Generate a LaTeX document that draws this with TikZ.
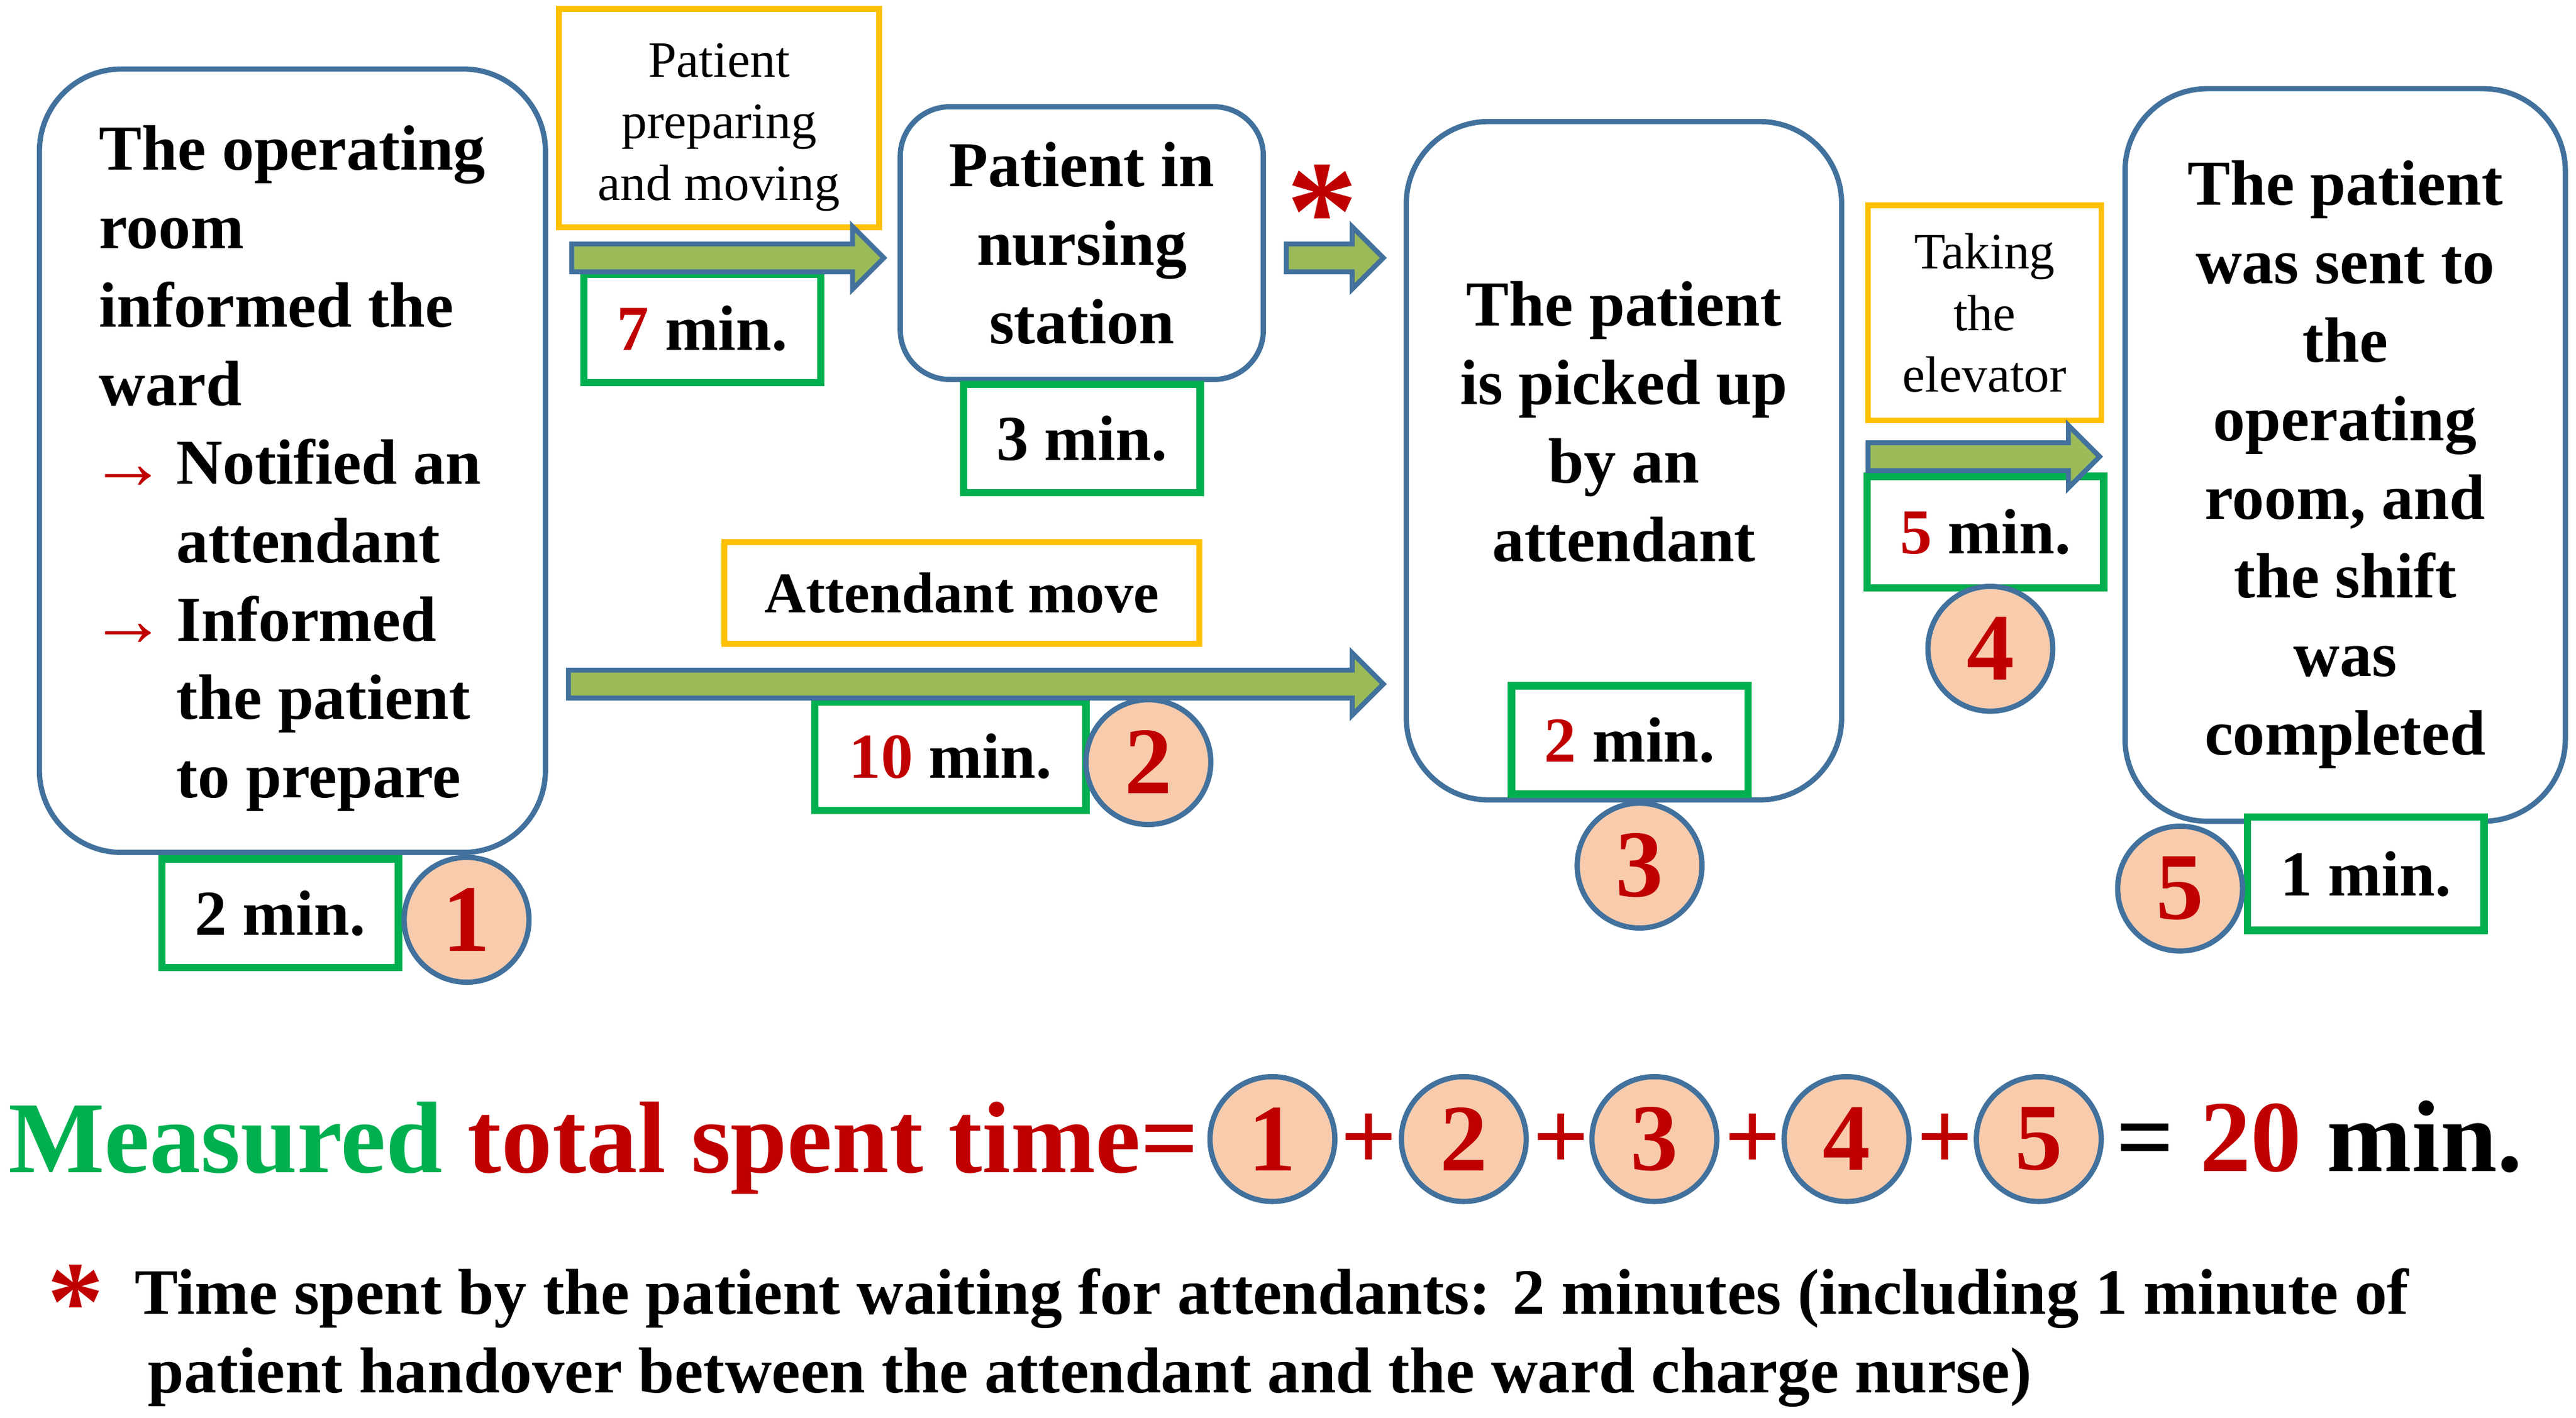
\documentclass[tikz,border=0pt]{standalone}
\usepackage{fontspec}
\setmainfont{Liberation Serif}
\usetikzlibrary{calc}
\definecolor{boxblue}{RGB}{65,113,156}
\definecolor{timegreen}{RGB}{0,176,80}
\definecolor{stageorange}{RGB}{255,192,0}
\definecolor{arrowgreen}{RGB}{155,187,89}
\definecolor{numfill}{RGB}{248,203,173}
\definecolor{darkred}{RGB}{192,0,0}

\newcommand{\blockarrow}[2]{%
  \draw[fatarrow] ($(#1)+(0,-8.5)$) -- ($(#2)+(-19,-8.5)$) -- ($(#2)+(-19,-19)$) -- (#2)
    -- ($(#2)+(-19,19)$) -- ($(#2)+(-19,8.5)$) -- ($(#1)+(0,8.5)$) -- cycle;}
\newcommand{\redarr}{\makebox[47pt][l]{\hspace*{-6pt}\raisebox{-3pt}{\mdseries\fontsize{47}{47}\selectfont\textcolor{darkred}{→}}}}

\begin{document}
\begin{tikzpicture}[x=1pt, y=-1pt,
  stepbox/.style={draw=boxblue, line width=3.2pt, rounded corners=50pt, fill=white, inner sep=0pt, font=\fontsize{39}{47.8}\selectfont\bfseries},
  timebox/.style={draw=timegreen, line width=4.5pt, fill=white, minimum width=144pt, minimum height=66pt, inner sep=0pt, font=\fontsize{39}{47}\selectfont\bfseries},
  actbox/.style={draw=stageorange, line width=3.5pt, fill=white, inner sep=0pt, align=center, font=\fontsize{31}{37.5}\selectfont},
  numcirc/.style={circle, draw=boxblue, line width=3.2pt, fill=numfill, minimum size=76pt, inner sep=0pt, text=darkred, font=\fontsize{58}{58}\selectfont\bfseries},
  plussign/.style={inner sep=0pt, text=darkred, font=\fontsize{60}{60}\selectfont\bfseries},
  fatarrow/.style={draw=boxblue, line width=3pt, fill=arrowgreen},
  waitstar/.style={inner sep=0pt, text=darkred, font=\fontsize{87}{87}\selectfont\bfseries}]

  \path[fill=white, use as bounding box] (0,0) rectangle (1568,863);

  \node[stepbox, minimum width=308pt, minimum height=477pt, align=left] (inform) at (178,280.5)
    {\rule{0pt}{36.5pt}The operating\\ room\\ informed the\\ ward\\ \redarr Notified an\\ \hspace*{47pt}attendant\\
     \redarr Informed\\ \hspace*{47pt}the patient\\ \hspace*{47pt}to prepare};
  \node[stepbox, rounded corners=30pt, minimum width=221pt, minimum height=166pt, align=center] (station) at (658.5,148)
    {Patient in\\ nursing\\ station};
  \node[stepbox, minimum width=265pt, minimum height=413pt, align=center] (pickup) at (988.5,280.5)
    {The patient\\ is picked up\\ by an\\ attendant\\ \mbox{}};
  \node[stepbox, minimum width=268pt, minimum height=446pt, align=center] (arrive) at (1427.5,277)
    {\rule{0pt}{38.5pt}The patient\\ was sent to\\ the\\ operating\\ room, and\\ the shift\\ was\\ completed};

  \node[actbox, minimum width=195pt, minimum height=133pt] (prepmove) at (437.7,72) {\rule{0pt}{31.5pt}Patient\\ preparing\\ and moving};
  \node[actbox, minimum width=289pt, minimum height=62pt, font=\fontsize{35}{40}\selectfont\bfseries] (attmove) at (585.5,361) {Attendant move};
  \node[actbox, minimum width=142pt, minimum height=131pt] (elevator) at (1208,190.5) {Taking\\ the\\ elevator};

  \node[timebox] (tinform) at (170.5,556) {2 min.};
  \node[timebox] (tprep) at (427.5,200) {\textcolor{darkred}{7} min.};
  \node[timebox] (tstation) at (658.5,267) {3 min.};
  \node[timebox, minimum width=165pt] (tattend) at (578.5,460.5) {\textcolor{darkred}{10} min.};
  \node[timebox] (tpickup) at (992,450.5) {\textcolor{darkred}{2} min.};
  \node[timebox, minimum height=68pt] (televator) at (1208.5,324) {\textcolor{darkred}{5} min.};
  \node[timebox, minimum height=69pt] (tarrive) at (1440,532) {1 min.};

  \coordinate (prepstart) at (348,157);
  \coordinate (prepend) at (538,157);
  \coordinate (waitstart) at (783,157);
  \coordinate (waitend) at (842,157);
  \coordinate (attstart) at (346,416.5);
  \coordinate (attend) at (842,416.5);
  \coordinate (elevstart) at (1137,278);
  \coordinate (elevend) at (1278,278);
  \blockarrow{prepstart}{prepend}
  \blockarrow{waitstart}{waitend}
  \blockarrow{attstart}{attend}
  \blockarrow{elevstart}{elevend}

  \node[waitstar] (wait) at (805,129) {*};

  \node[numcirc] (one) at (284,560) {1};
  \node[numcirc] (two) at (699,464) {2};
  \node[numcirc] (three) at (998,527) {3};
  \node[numcirc] (four) at (1211.5,395) {4};
  \node[numcirc] (five) at (1327,541) {5};

  \node[anchor=base west, inner sep=0pt, font=\fontsize{62}{62}\selectfont\bfseries] (total) at (5,714)
    {\textcolor{timegreen}{Measured} \textcolor{darkred}{total spent time=}};
  \node[numcirc] (sumone) at (774.5,693.5) {1};
  \node[plussign] (plusone) at (833,695) {+};
  \node[numcirc] (sumtwo) at (891,693.5) {2};
  \node[plussign] (plustwo) at (950,695) {+};
  \node[numcirc] (sumthree) at (1007,693.5) {3};
  \node[plussign] (plusthree) at (1067,695) {+};
  \node[numcirc] (sumfour) at (1124,693.5) {4};
  \node[plussign] (plusfour) at (1184,695) {+};
  \node[numcirc] (sumfive) at (1241,693.5) {5};
  \node[anchor=base west, inner sep=0pt, font=\fontsize{62}{62}\selectfont\bfseries] (result) at (1288,713)
    {= \textcolor{darkred}{20} min.};

  \node[waitstar, font=\fontsize{69}{69}\selectfont\bfseries] (notestar) at (46,793) {*};
  \node[anchor=base west, inner sep=0pt, font=\fontsize{39.5}{48}\selectfont\bfseries] (noteone) at (82,800)
    {Time spent by the patient waiting for attendants: 2 minutes (including 1 minute of};
  \node[anchor=base west, inner sep=0pt, font=\fontsize{39.5}{48}\selectfont\bfseries] (notetwo) at (90,848)
    {patient handover between the attendant and the ward charge nurse)};
\end{tikzpicture}
\end{document}
